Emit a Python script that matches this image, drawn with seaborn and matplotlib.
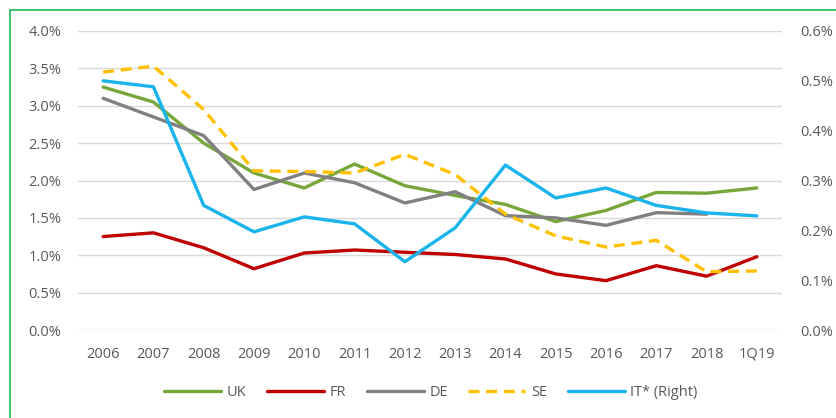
import matplotlib.pyplot as plt
import matplotlib.ticker as mticker
from matplotlib.lines import Line2D
import numpy as np
import pandas as pd
import seaborn as sns

# Data
years = ["2006", "2007", "2008", "2009", "2010", "2011", "2012",
         "2013", "2014", "2015", "2016", "2017", "2018", "1Q19"]
uk = [3.25, 3.05, 2.50, 2.10, 1.90, 2.22, 1.93, 1.80, 1.68, 1.45, 1.60, 1.84, 1.83, 1.90]
fr = [1.25, 1.30, 1.10, 0.82, 1.03, 1.07, 1.04, 1.01, 0.95, 0.75, 0.66, 0.86, 0.72, 0.98]
de = [3.10, 2.85, 2.60, 1.88, 2.10, 1.97, 1.70, 1.85, 1.53, 1.50, 1.40, 1.57, 1.55, np.nan]
se = [3.45, 3.53, 2.95, 2.13, 2.12, 2.10, 2.35, 2.08, 1.55, 1.26, 1.11, 1.20, 0.78, 0.79]
it_right = [0.500, 0.488, 0.250, 0.197, 0.227, 0.213, 0.137, 0.205, 0.331, 0.265, 0.285, 0.250, 0.235, 0.229]

df = pd.DataFrame({"pos": range(len(years)), "UK": uk, "FR": fr, "DE": de, "SE": se, "IT": it_right})

sns.set_style("white")
plt.rcParams["font.family"] = ["Open Sans", "DejaVu Sans"]

fig = plt.figure(figsize=(8.37, 4.18), dpi=100)
ax = fig.add_axes([78 / 837, 1 - 330 / 418, 704 / 837, 299 / 418])
ax2 = ax.twinx()

LW = 2.4
FS = 10.5
sns.lineplot(data=df, x="pos", y="UK", ax=ax, color="#77A73A", lw=LW, label="UK", legend=False)
sns.lineplot(data=df, x="pos", y="FR", ax=ax, color="#C00000", lw=LW, label="FR", legend=False)
sns.lineplot(data=df, x="pos", y="DE", ax=ax, color="#808080", lw=LW, label="DE", legend=False)
sns.lineplot(data=df, x="pos", y="SE", ax=ax, color="#FFC000", lw=LW, label="SE", legend=False,
             dashes=False, linestyle=(0, (3.3, 2)))
sns.lineplot(data=df, x="pos", y="IT", ax=ax2, color="#19B4EC", lw=LW, label="IT* (Right)", legend=False)

tick_color = "#595959"
ax.set_xlim(-0.5, len(years) - 0.5)
ax.set_ylim(0, 4)
ax2.set_ylim(0, 0.6)
ax.set_xticks(range(len(years)))
ax.set_xticklabels(years)
ax.yaxis.set_major_locator(mticker.MultipleLocator(0.5))
ax2.yaxis.set_major_locator(mticker.MultipleLocator(0.1))
ax.yaxis.set_major_formatter(mticker.FuncFormatter(lambda v, p: f"{v:.1f}%"))
ax2.yaxis.set_major_formatter(mticker.FuncFormatter(lambda v, p: f"{v:.1f}%"))
for a in (ax, ax2):
    a.set_xlabel("")
    a.set_ylabel("")
    a.tick_params(length=0, labelsize=FS, labelcolor=tick_color)
    for s in a.spines.values():
        s.set_visible(False)
ax.tick_params(axis="x", pad=12)
ax.tick_params(axis="y", pad=12)
ax2.tick_params(axis="y", pad=13)
ax.grid(axis="y", color="#D9D9D9", lw=1)
ax.set_axisbelow(True)

h1, l1 = ax.get_legend_handles_labels()
h2, l2 = ax2.get_legend_handles_labels()
fig.legend(h1 + h2, l1 + l2, loc="center", bbox_to_anchor=(0.515, 1 - 393 / 418), ncol=5,
           frameon=False, fontsize=FS, labelcolor=tick_color, handlelength=3.9,
           columnspacing=1.4, handletextpad=0.4)

# green frame (left and top edges visible in the reference)
fig.add_artist(Line2D([9.5 / 837, 9.5 / 837], [0, 1 - 9.5 / 418], color="#1DB954", lw=1.2,
                      transform=fig.transFigure))
fig.add_artist(Line2D([9.5 / 837, 1], [1 - 9.5 / 418, 1 - 9.5 / 418], color="#1DB954", lw=1.2,
                      transform=fig.transFigure))

fig.savefig("out.png", dpi=100)
